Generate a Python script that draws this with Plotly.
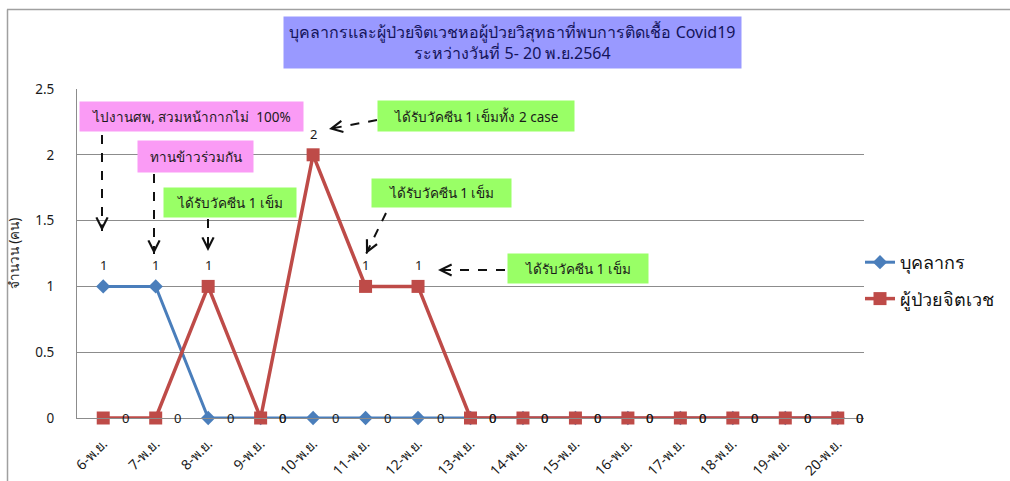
import plotly.graph_objects as go

# ---------------- data ----------------
categories = ["6-พ.ย.", "7-พ.ย.", "8-พ.ย.", "9-พ.ย.", "10-พ.ย.", "11-พ.ย.", "12-พ.ย.",
              "13-พ.ย.", "14-พ.ย.", "15-พ.ย.", "16-พ.ย.", "17-พ.ย.", "18-พ.ย.",
              "19-พ.ย.", "20-พ.ย."]
staff = [1, 1, 0, 0, 0, 0, 0, 0, 0, 0, 0, 0, 0, 0, 0]
patients = [0, 0, 1, 0, 2, 1, 1, 0, 0, 0, 0, 0, 0, 0, 0]
series_names = ["บุคลากร", "ผู้ป่วยจิตเวช"]
y_tick_values = [0, 0.5, 1, 1.5, 2, 2.5]
y_tick_labels = ["0", "0.5", "1", "1.5", "2", "2.5"]
y_title = "จำนวน (คน)"
title_lines = ["บุคลากรและผู้ป่วยจิตเวชหอผู้ป่วยวิสุทธาที่พบการติดเชื้อ Covid19",
               "ระหว่างวันที่ 5- 20 พ.ย.2564"]
note_texts = ["ไปงานศพ, สวมหน้ากากไม่  100%",
              "ทานข้าวร่วมกัน",
              "ได้รับวัคซีน 1 เข็ม",
              "ได้รับวัคซีน 1 เข็มทั้ง 2 case",
              "ได้รับวัคซีน 1 เข็ม",
              "ได้รับวัคซีน 1 เข็ม"]

# ---------------- style ----------------
FONT = "Tahoma, 'Noto Sans', 'DejaVu Sans', sans-serif"
BLUE = "#4A7EBB"
RED = "#BE4B48"
GRID = "#8C8C8C"
PINK = "#FA9BF5"
GREEN = "#99FF66"
TXT = "#1a1a1a"

W, H = 1010, 481
X0, X1, Y0, Y1 = 77, 864, 89, 418  # plot area in pixels


def px(x):
    return (x - X0) / (X1 - X0)


def py(y):
    return (Y1 - y) / (Y1 - Y0)


fig = go.Figure()
fig.add_trace(go.Scatter(x=categories, y=staff, name=series_names[0], mode="lines+markers",
                         line=dict(color=BLUE, width=3),
                         marker=dict(symbol="diamond", size=11, color=BLUE),
                         cliponaxis=False, legendgroup="a"))
fig.add_trace(go.Scatter(x=categories, y=patients, name=series_names[1], mode="lines+markers",
                         line=dict(color=RED, width=3.5),
                         marker=dict(symbol="square", size=13, color=RED),
                         cliponaxis=False, legendgroup="b"))

annotations = []
# data labels
for series in (staff, patients):
    for cat, v in zip(categories, series):
        if v == 0:
            annotations.append(dict(x=cat, y=v, xref="x", yref="y", text=f"{v:g}",
                                    showarrow=False, xshift=22, yshift=0,
                                    font=dict(family=FONT, size=13, color=TXT)))
        else:
            annotations.append(dict(x=cat, y=v, xref="x", yref="y", text=f"{v:g}",
                                    showarrow=False, xshift=0, yshift=21,
                                    font=dict(family=FONT, size=13, color=TXT)))

# title box
annotations.append(dict(x=px(512.5), y=py(42.5), xref="paper", yref="paper",
                        text="<br>".join(title_lines), showarrow=False,
                        xanchor="center", yanchor="middle", align="center",
                        bgcolor="#9999FF", width=455, height=49, borderpad=1,
                        font=dict(family=FONT, size=16, color="#14145A")))

# note boxes: (left, top, right, bottom, color)
boxes = [(80, 102, 303, 131, PINK),
         (138, 141, 253, 172, PINK),
         (164, 188, 296, 217, GREEN),
         (378, 101, 574, 131, GREEN),
         (372, 179, 511, 207, GREEN),
         (508, 254, 648, 283, GREEN)]
for txt, (l, t, r, b, c) in zip(note_texts, boxes):
    annotations.append(dict(x=px((l + r) / 2), y=py((t + b) / 2), xref="paper", yref="paper",
                            text=txt, showarrow=False, xanchor="center", yanchor="middle",
                            bgcolor=c, width=r - l - 2, height=b - t - 2, borderpad=1,
                            font=dict(family=FONT, size=13.5, color=TXT)))

# dashed arrows: (start x, start y, tip x, tip y)
arrows = [(102, 135, 102, 231),
          (154, 174, 154, 254),
          (208, 219, 208, 251),
          (377, 120, 329, 129),
          (386, 213, 366, 254),
          (505, 270, 438, 270)]
shapes = []
for sx, sy, tx, ty in arrows:
    shapes.append(dict(type="line", xref="paper", yref="paper",
                       x0=px(sx), y0=py(sy), x1=px(tx), y1=py(ty),
                       line=dict(color="#111111", width=2, dash="dash")))
    dx, dy = sx - tx, sy - ty
    n = (dx * dx + dy * dy) ** 0.5
    annotations.append(dict(x=px(tx), y=py(ty), xref="paper", yref="paper", text="",
                            showarrow=True, arrowhead=5, arrowsize=1.1, arrowwidth=2,
                            arrowcolor="#111111", ax=dx / n * 8, ay=dy / n * 8,
                            axref="pixel", ayref="pixel"))

# outer frame of the chart
shapes.append(dict(type="line", xref="paper", yref="paper",
                   x0=px(7), y0=py(9.5), x1=px(1012), y1=py(9.5),
                   line=dict(color="#A0A0A0", width=1.5)))
shapes.append(dict(type="line", xref="paper", yref="paper",
                   x0=px(7.5), y0=py(9.5), x1=px(7.5), y1=py(485),
                   line=dict(color="#A0A0A0", width=1.5)))

fig.update_layout(
    width=W, height=H,
    margin=dict(l=X0, r=W - X1, t=Y0, b=H - Y1, autoexpand=False),
    paper_bgcolor="white", plot_bgcolor="white",
    font=dict(family=FONT, size=13, color=TXT),
    showlegend=True,
    legend=dict(x=px(860), y=py(244), xanchor="left", yanchor="top",
                font=dict(family=FONT, size=18, color="#111111"),
                tracegroupgap=10, itemwidth=30, bgcolor="rgba(0,0,0,0)"),
    annotations=annotations,
    shapes=shapes,
    xaxis=dict(type="category", range=[-0.5, 14.5], tickangle=-45, automargin=False,
               showgrid=False, showline=True, linecolor=GRID, linewidth=1,
               ticks="", ticklabelstandoff=11,
               tickfont=dict(family=FONT, size=14, color=TXT),
               zeroline=False, fixedrange=True),
    yaxis=dict(range=[0, 2.5], tickvals=y_tick_values, ticktext=y_tick_labels,
               automargin=False,
               showgrid=True, gridcolor=GRID, gridwidth=1,
               showline=True, linecolor=GRID, linewidth=1,
               ticks="", ticklabelstandoff=19, zeroline=False,
               tickfont=dict(family=FONT, size=13.5, color=TXT),
               title=dict(text=y_title, standoff=12,
                          font=dict(family=FONT, size=13.5, color=TXT))),
)

fig.write_html("out.html")
